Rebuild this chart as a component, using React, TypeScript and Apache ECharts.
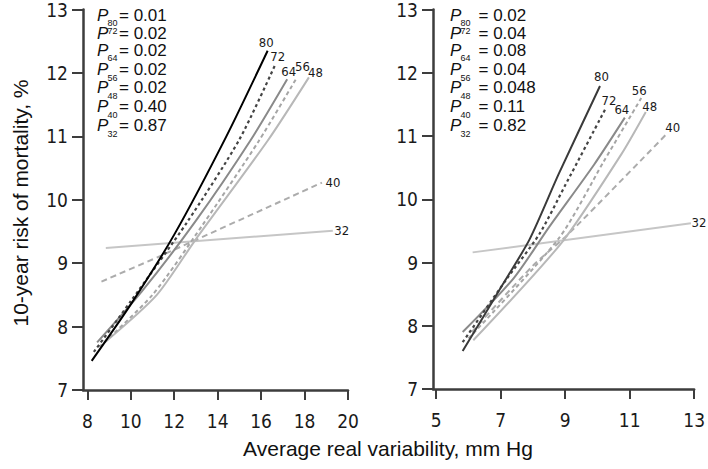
import React, { useEffect, useRef } from "react";
import * as echarts from "echarts";

// ---- Data ----
const SERIES_NAMES = ["80", "72", "64", "56", "48", "40", "32"];

// Left panel: Average real variability (x) vs 10-year risk (y)
const L80 = [[8.2, 7.46], [10, 8.35], [12, 9.45], [14.4, 11.0], [16.3, 12.35]];
const L72 = [[8.3, 7.6], [10, 8.4], [12.6, 9.65], [15, 10.95], [16.65, 12.13]];
const L64 = [[8.45, 7.75], [10.5, 8.55], [13, 9.67], [15.5, 10.93], [17.2, 11.9]];
const L56 = [[8.55, 7.68], [11, 8.5], [13.3, 9.6], [15.9, 10.93], [17.65, 11.93]];
const L48 = [[8.8, 7.75], [11.2, 8.5], [13, 9.38], [16.3, 10.93], [18.2, 11.93]];
const L40 = [[8.65, 8.71], [11.4, 9.12], [18.8, 10.27]];
const L32 = [[8.85, 9.24], [19.3, 9.51]];

// Right panel
const R80 = [[5.82, 7.6], [7.0, 8.6], [7.9, 9.37], [8.8, 10.4], [10.08, 11.79]];
const R72 = [[5.82, 7.74], [7.2, 8.75], [8.2, 9.45], [9.0, 10.22], [10.25, 11.43]];
const R64 = [[5.82, 7.9], [7.4, 8.75], [8.5, 9.56], [9.9, 10.55], [10.85, 11.29]];
const R56 = [[6.0, 7.8], [8.8, 9.38], [10.2, 10.6], [11.36, 11.6]];
const R48 = [[6.15, 7.77], [8.9, 9.32], [10.74, 10.71], [11.5, 11.38]];
const R40 = [[6.1, 7.9], [8.0, 8.95], [9.1, 9.45], [12.18, 11.05]];
const R32 = [[6.13, 9.16], [12.9, 9.62]];

const LEFT_P = ["0.01", "0.02", "0.02", "0.02", "0.02", "0.40", "0.87"];
const RIGHT_P = ["0.02", "0.04", "0.08", "0.04", "0.048", "0.11", "0.82"];

const LEFT_X_TICKS = [8, 10, 12, 14, 16, 18, 20];
const RIGHT_X_TICKS = [5, 7, 9, 11, 13];

// ---- Styles ----
const NARROW = "'Liberation Sans Narrow', 'DejaVu Sans Condensed', sans-serif";
const SANS = "'Liberation Sans', Arial, sans-serif";
const AXIS_COLOR = "#3d3d3d";

const STYLES: Record<string, { color: string; type: any; width: number }> = {
  "80": { color: "#000000", type: "solid", width: 2 },
  "72": { color: "#444444", type: [3, 3], width: 2.2 },
  "64": { color: "#8a8a8a", type: "solid", width: 2 },
  "56": { color: "#a6a6a6", type: [4, 3], width: 2 },
  "48": { color: "#b8b8b8", type: "solid", width: 2 },
  "40": { color: "#acacac", type: [6, 4], width: 2 },
  "32": { color: "#c6c6c6", type: "solid", width: 2 },
};
const RIGHT_COLOR_OVERRIDE: Record<string, string> = { "80": "#3a3a3a" };

// label centre offsets relative to line end
const LEFT_LABEL_OFF: Record<string, [number, number]> = {
  "80": [-1.5, -8], "72": [2.5, -8.5], "64": [1.5, -7.5], "56": [5.5, -11],
  "48": [6.5, -5], "40": [11, 0], "32": [9, -0.5],
};
const RIGHT_LABEL_OFF: Record<string, [number, number]> = {
  "80": [1.5, -10], "72": [3.5, -8.5], "64": [-3, -8], "56": [-2, -8],
  "48": [4, -5.5], "40": [5, -5], "32": [8, -1],
};

function makeSeries(name: string, data: number[][], idx: number, right: boolean) {
  const st = STYLES[name];
  const color = right && RIGHT_COLOR_OVERRIDE[name] ? RIGHT_COLOR_OVERRIDE[name] : st.color;
  const off = (right ? RIGHT_LABEL_OFF : LEFT_LABEL_OFF)[name];
  return {
    type: "line",
    name: (right ? "R" : "L") + name,
    xAxisIndex: idx,
    yAxisIndex: idx,
    data,
    showSymbol: false,
    symbol: "none",
    smooth: 0.25,
    lineStyle: { color, type: st.type, width: st.width },
    itemStyle: { color },
    z: 10 - SERIES_NAMES.indexOf(name),
    endLabel: {
      show: true,
      formatter: () => name,
      distance: 0,
      align: "center",
      verticalAlign: "middle",
      offset: off,
      fontFamily: NARROW,
      fontSize: 13,
      color: "#1a1a1a",
    },
    emphasis: { disabled: true },
  };
}

function pBlock(x: number, values: string[], subX: number, eqX: number) {
  const rows = [15, 33.3, 50, 69.5, 87.5, 106.7, 125.5];
  const els: any[] = [];
  values.forEach((v, i) => {
    const y = rows[i];
    els.push({
      type: "text",
      x,
      y,
      style: { text: "P", fontFamily: SANS, fontStyle: "italic", fontSize: 17, fill: "#111", verticalAlign: "middle", align: "left" },
    });
    const subY = SERIES_NAMES[i] === "72" ? y - 2 : y + 8;
    els.push({
      type: "text",
      x: subX,
      y: subY,
      style: { text: SERIES_NAMES[i], fontFamily: SANS, fontSize: 9, fill: "#111", verticalAlign: "middle", align: "left" },
    });
    els.push({
      type: "text",
      x: eqX,
      y,
      style: { text: "= " + v, fontFamily: SANS, fontSize: 17, fill: "#111", verticalAlign: "middle", align: "left" },
    });
  });
  return els;
}

function xAxisCfg(gridIndex: number, min: number, max: number, ticks: number[]) {
  return {
    type: "value",
    gridIndex,
    min,
    max,
    axisLine: { show: true, onZero: false, lineStyle: { color: AXIS_COLOR, width: 2.5 } },
    axisTick: { show: true, length: 10, customValues: ticks, lineStyle: { color: AXIS_COLOR, width: 2 } },
    axisLabel: { customValues: ticks, margin: 21, fontFamily: NARROW, fontSize: 19, color: "#1a1a1a" },
    splitLine: { show: false },
  };
}

function yAxisCfg(gridIndex: number) {
  return {
    type: "value",
    gridIndex,
    min: 7,
    max: 13,
    interval: 1,
    axisLine: { show: true, onZero: false, lineStyle: { color: AXIS_COLOR, width: 2.5 } },
    axisTick: { show: true, length: 11, lineStyle: { color: AXIS_COLOR, width: 2 } },
    axisLabel: { margin: 15, fontFamily: NARROW, fontSize: 19, color: "#1a1a1a" },
    splitLine: { show: false },
  };
}

export default function App() {
  const ref = useRef<HTMLDivElement>(null);
  useEffect(() => {
    if (!ref.current) return;
    const chart = echarts.init(ref.current, null, { renderer: "svg" });
    const leftData = [L80, L72, L64, L56, L48, L40, L32];
    const rightData = [R80, R72, R64, R56, R48, R40, R32];
    const series: any[] = [];
    SERIES_NAMES.forEach((n, i) => series.push(makeSeries(n, leftData[i], 0, false)));
    SERIES_NAMES.forEach((n, i) => series.push(makeSeries(n, rightData[i], 1, true)));
    chart.setOption({
      animation: false,
      backgroundColor: "#ffffff",
      grid: [
        { left: 83, right: 360, top: 8, bottom: 79 },
        { left: 433, right: 11, top: 8, bottom: 80 },
      ],
      xAxis: [xAxisCfg(0, 7.8, 20, LEFT_X_TICKS), xAxisCfg(1, 4.9, 13, RIGHT_X_TICKS)],
      yAxis: [yAxisCfg(0), yAxisCfg(1)],
      series,
      graphic: [
        ...pBlock(97, LEFT_P, 107.5, 119),
        ...pBlock(450, RIGHT_P, 460.5, 478.5),
        {
          type: "text",
          x: 20,
          y: 203,
          rotation: Math.PI / 2,
          style: { text: "10-year risk of mortality, %", fontFamily: SANS, fontSize: 21, fill: "#111", align: "center", verticalAlign: "middle" },
        },
        {
          type: "text",
          x: 388,
          y: 448,
          style: { text: "Average real variability, mm Hg", fontFamily: SANS, fontSize: 21, fill: "#111", align: "center", verticalAlign: "middle" },
        },
      ],
    });
    return () => chart.dispose();
  }, []);
  return <div ref={ref} style={{ width: 708, height: 469, position: "fixed", left: 0, top: 0 }} />;
}
